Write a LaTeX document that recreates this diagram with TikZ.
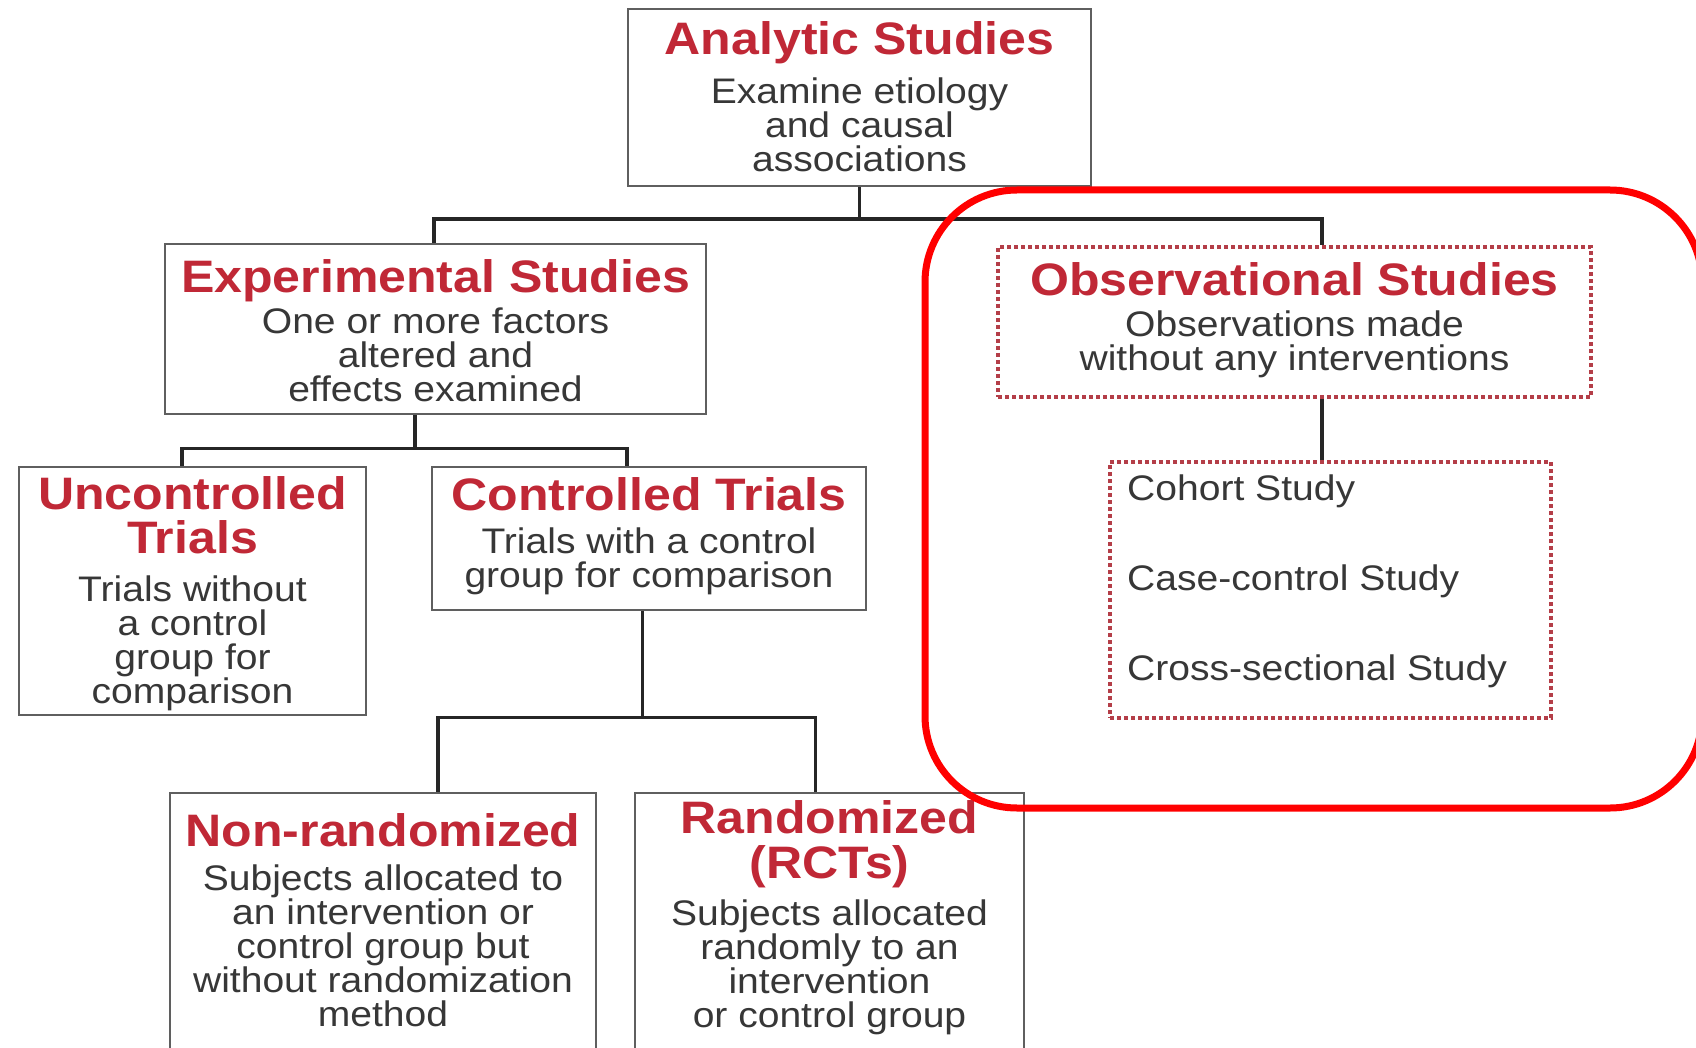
\documentclass[tikz,border=0pt]{standalone}
\usepackage{fontspec}
\setmainfont[FakeStretch=1.1]{Liberation Sans}
\usetikzlibrary{positioning}
\definecolor{titlered}{RGB}{192,40,54}
\definecolor{bodygray}{RGB}{55,55,55}
\definecolor{framegray}{RGB}{95,95,95}
\definecolor{dotred}{RGB}{180,62,72}
\newcommand{\titleline}[1]{{\fontsize{45.5}{34}\selectfont\bfseries\color{titlered}#1}}
\newcommand{\bodytext}{\fontsize{35.5}{34}\selectfont\lineskiplimit -100pt\relax}
\tikzset{
	studybox/.style = {draw=framegray, line width=2.5pt, fill=white, inner sep=0pt},
	obsbox/.style = {draw=dotred, line width=4pt, dash pattern=on 4pt off 3pt, fill=white, inner sep=0pt},
	studytext/.style = {inner sep=0pt, align=center, text=bodygray, font=\bodytext},
	link/.style = {draw=black!85, line width=3.5pt},
	focus/.style = {draw=red, line width=7pt, rounded corners=92pt}
}

\begin{document}
\begin{tikzpicture}[x=1pt, y=-1pt]
	\useasboundingbox (0,0) rectangle (1696,1048);
	\clip (0,0) rectangle (1696,1048);
	\fill[white] (0,0) rectangle (1696,1048);

	% Define study boxes
	\node (analytic) [studybox, minimum width=463pt, minimum height=177pt] at (859.5,97.5) {};
	\node (exper) [studybox, minimum width=541pt, minimum height=170pt] at (435.5,329) {};
	\node (obs) [obsbox, minimum width=593pt, minimum height=150pt] at (1294.5,322) {};
	\node (designs) [obsbox, minimum width=441pt, minimum height=256pt] at (1330.5,590) {};
	\node (unctrl) [studybox, minimum width=347pt, minimum height=248pt] at (192.5,591) {};
	\node (ctrl) [studybox, minimum width=434pt, minimum height=143pt] at (649,538.5) {};
	\node (nonrand) [studybox, minimum width=426pt, minimum height=277pt] at (383,931.5) {};
	\node (rand) [studybox, minimum width=389pt, minimum height=277pt] at (829.5,931.5) {};

	% Define box texts
	\node (analytictext) [studytext, below=14pt of analytic.north]
		{\titleline{Analytic Studies}\\[15pt]Examine etiology\\and causal\\associations};
	\node (expertext) [studytext, below=17pt of exper.north]
		{\titleline{Experimental Studies}\\[7pt]One or more factors\\altered and\\effects examined};
	\node (obstext) [studytext, below=17pt of obs.north]
		{\titleline{Observational Studies}\\[7pt]Observations made\\without any interventions};
	\node (designtext) [studytext, align=left, below right=15pt and 19pt of designs.north west]
		{Cohort Study\\[56pt]Case-control Study\\[56pt]Cross-sectional Study};
	\node (unctrltext) [studytext, below=11pt of unctrl.north]
		{\titleline{Uncontrolled}\\[10pt]\titleline{Trials}\\[14pt]Trials without\\a control\\group for\\comparison};
	\node (ctrltext) [studytext, below=12pt of ctrl.north]
		{\titleline{Controlled Trials}\\[9pt]Trials with a control\\group for comparison};
	\node (nonrandtext) [studytext, below=22pt of nonrand.north]
		{\titleline{Non-randomized}\\[10pt]Subjects allocated to\\an intervention or\\control group but\\without randomization\\method};
	\node (randtext) [studytext, below=9pt of rand.north]
		{\titleline{Randomized}\\[11pt]\titleline{(RCTs)}\\[13pt]Subjects allocated\\randomly to an\\intervention\\or control group};

	% Define links
	\draw[link] (analytic.south) -- ++(0,32) coordinate (fork1);
	\draw[link] ([xshift=-1.5pt]exper.north) |- (fork1) -| ([xshift=27.5pt]obs.north);
	\draw[link] ([xshift=27.5pt]obs.south) -- ([xshift=-8.5pt]designs.north);
	\draw[link] ([xshift=-20.5pt]exper.south) -- ++(0,33) coordinate (fork2);
	\draw[link] ([xshift=-10.5pt]unctrl.north) |- (fork2) -| ([xshift=-22pt]ctrl.north);
	\draw[link] ([xshift=-6.5pt]ctrl.south) -- ++(0,106) coordinate (fork3);
	\draw[link] ([xshift=55pt]nonrand.north) |- (fork3) -| ([xshift=-14pt]rand.north);

	% Highlight of observational branch
	\draw[focus] (925,190) rectangle (1702,808);
\end{tikzpicture}
\end{document}
